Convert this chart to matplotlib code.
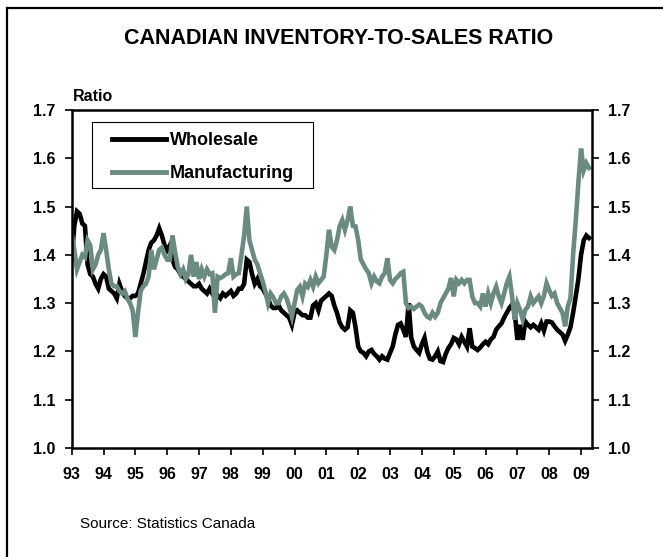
import numpy as np
import matplotlib
matplotlib.use("Agg")
import matplotlib.pyplot as plt
from matplotlib.lines import Line2D
from matplotlib.patches import Rectangle

plt.rcParams['font.family'] = ['Liberation Sans', 'DejaVu Sans']

# monthly ratios, Jan 1993 .. Apr 2009
wholesale = [
    1.39, 1.46, 1.49, 1.485, 1.465, 1.46, 1.38, 1.36, 1.355, 1.34, 1.33, 1.35,      # 93
    1.36, 1.355, 1.33, 1.325, 1.32, 1.31, 1.34, 1.325, 1.315, 1.31, 1.31, 1.315,    # 94
    1.315, 1.32, 1.34, 1.36, 1.385, 1.41, 1.425, 1.43, 1.44, 1.455, 1.44, 1.42,     # 95
    1.41, 1.42, 1.39, 1.375, 1.37, 1.36, 1.355, 1.35, 1.345, 1.34, 1.335, 1.335,    # 96
    1.34, 1.33, 1.325, 1.32, 1.33, 1.32, 1.325, 1.315, 1.31, 1.32, 1.315, 1.32,     # 97
    1.325, 1.315, 1.32, 1.33, 1.33, 1.34, 1.39, 1.385, 1.36, 1.34, 1.35, 1.335,     # 98
    1.33, 1.32, 1.31, 1.295, 1.29, 1.29, 1.295, 1.285, 1.28, 1.275, 1.27, 1.255,    # 99
    1.28, 1.285, 1.28, 1.275, 1.275, 1.27, 1.27, 1.295, 1.30, 1.285, 1.305, 1.31,   # 00
    1.315, 1.32, 1.315, 1.295, 1.28, 1.26, 1.25, 1.245, 1.25, 1.285, 1.28, 1.25,    # 01
    1.21, 1.20, 1.197, 1.19, 1.20, 1.203, 1.195, 1.19, 1.183, 1.19, 1.185, 1.183,   # 02
    1.197, 1.21, 1.235, 1.255, 1.258, 1.245, 1.23, 1.30, 1.228, 1.21, 1.203, 1.197, # 03
    1.215, 1.228, 1.20, 1.185, 1.183, 1.19, 1.20, 1.18, 1.178, 1.195, 1.207, 1.215, # 04
    1.228, 1.225, 1.215, 1.23, 1.22, 1.21, 1.248, 1.21, 1.207, 1.203, 1.208, 1.215, # 05
    1.22, 1.215, 1.225, 1.23, 1.245, 1.252, 1.258, 1.27, 1.28, 1.29, 1.297, 1.28,   # 06
    1.224, 1.255, 1.224, 1.262, 1.255, 1.25, 1.255, 1.25, 1.245, 1.258, 1.243, 1.262,  # 07
    1.262, 1.26, 1.252, 1.245, 1.24, 1.235, 1.222, 1.235, 1.25, 1.28, 1.314, 1.35,  # 08
    1.40, 1.43, 1.44, 1.435,                                                        # 09
]

manufacturing = [
    1.445, 1.41, 1.37, 1.385, 1.40, 1.395, 1.43, 1.42, 1.37, 1.38, 1.40, 1.41,      # 93
    1.445, 1.41, 1.37, 1.34, 1.335, 1.335, 1.325, 1.32, 1.325, 1.31, 1.30, 1.285,   # 94
    1.23, 1.28, 1.325, 1.335, 1.34, 1.355, 1.41, 1.37, 1.39, 1.41, 1.415, 1.40,     # 95
    1.39, 1.39, 1.44, 1.405, 1.375, 1.36, 1.37, 1.35, 1.36, 1.40, 1.355, 1.385,     # 96
    1.35, 1.37, 1.355, 1.37, 1.36, 1.362, 1.28, 1.355, 1.352, 1.355, 1.36, 1.362,   # 97
    1.393, 1.355, 1.36, 1.362, 1.40, 1.44, 1.50, 1.43, 1.41, 1.39, 1.38, 1.362,     # 98
    1.345, 1.325, 1.30, 1.32, 1.312, 1.30, 1.30, 1.314, 1.32, 1.31, 1.293, 1.272,   # 99
    1.30, 1.327, 1.334, 1.314, 1.34, 1.334, 1.348, 1.334, 1.355, 1.341, 1.348, 1.355,  # 00
    1.40, 1.452, 1.417, 1.41, 1.43, 1.459, 1.472, 1.452, 1.472, 1.50, 1.46, 1.459,  # 01
    1.43, 1.39, 1.38, 1.37, 1.362, 1.341, 1.355, 1.345, 1.341, 1.355, 1.362, 1.393, # 02
    1.348, 1.341, 1.35, 1.355, 1.362, 1.365, 1.30, 1.29, 1.293, 1.288, 1.293, 1.297,   # 03
    1.293, 1.28, 1.272, 1.269, 1.28, 1.272, 1.28, 1.30, 1.31, 1.32, 1.33, 1.352,    # 04
    1.314, 1.348, 1.341, 1.348, 1.341, 1.348, 1.348, 1.314, 1.30, 1.30, 1.293, 1.32,   # 05
    1.293, 1.32, 1.30, 1.32, 1.334, 1.314, 1.30, 1.32, 1.341, 1.355, 1.314, 1.266,  # 06
    1.30, 1.286, 1.266, 1.286, 1.293, 1.314, 1.30, 1.307, 1.314, 1.30, 1.315, 1.341,   # 07
    1.327, 1.315, 1.32, 1.30, 1.29, 1.28, 1.252, 1.293, 1.31, 1.40, 1.47, 1.55,     # 08
    1.62, 1.575, 1.59, 1.58,                                                        # 09
]

years = list(range(1993, 2010))
year_labels = ['%02d' % (y % 100) for y in years]
y_ticks = [1.0, 1.1, 1.2, 1.3, 1.4, 1.5, 1.6, 1.7]

t = 1993 + np.arange(len(wholesale)) / 12.0
grey = '#6b8a82'

fig = plt.figure(figsize=(6.63, 5.57), dpi=100)
ax = fig.add_axes([0.1081, 0.1957, 0.7843, 0.6068])

ax.plot(t, wholesale, color='black', lw=3.3, label='Wholesale', solid_joinstyle='miter')
ax.plot(t, manufacturing, color=grey, lw=3.3, label='Manufacturing', solid_joinstyle='miter')

ax.set_xlim(1993, 1993 + 196 / 12.0)
ax.set_ylim(1.0, 1.7)
ax.set_xticks(years)
ax.set_xticklabels(year_labels, fontsize=11.5, fontweight='bold')
ax.set_yticks(y_ticks)
ax.set_yticklabels(['%.1f' % v for v in y_ticks], fontsize=11.5, fontweight='bold')
ax.tick_params(axis='y', which='both', direction='out', length=5, width=1.2,
               pad=7, left=True, right=True, labelleft=True, labelright=True)
ax.tick_params(axis='x', direction='out', length=5, width=1.2, pad=9)
for s in ax.spines.values():
    s.set_linewidth(1.8)

# legend box drawn separately so the padding can differ per side
ax.add_patch(Rectangle((0.039, 0.769), 0.425, 0.1955, transform=ax.transAxes,
                       fill=True, facecolor='white', edgecolor='black', lw=0.8, zorder=4))
leg = ax.legend(loc='upper left', bbox_to_anchor=(0.077, 0.935),
                prop={'weight': 'bold', 'size': 13}, frameon=False,
                handlelength=3.0, handletextpad=0.2,
                labelspacing=0.9, borderpad=0, borderaxespad=0)
leg.set_zorder(5)
for ln in leg.get_lines():
    ln.set_linewidth(3.5)

fig.text(0.511, 0.930, 'CANADIAN INVENTORY-TO-SALES RATIO', ha='center', va='center',
         fontsize=15.5, fontweight='bold')
fig.text(0.110, 0.826, 'Ratio', ha='left', va='center', fontsize=11.5, fontweight='bold')
fig.text(0.120, 0.059, 'Source: Statistics Canada', ha='left', va='center', fontsize=11)

# outer frame (left and top edges)
fig.add_artist(Line2D([7 / 663, 7 / 663], [0, 1 - 8 / 557], color='black', lw=1.6,
                      transform=fig.transFigure))
fig.add_artist(Line2D([7 / 663, 1], [1 - 8 / 557, 1 - 8 / 557], color='black', lw=1.6,
                      transform=fig.transFigure))

fig.savefig('out.png', dpi=100)
